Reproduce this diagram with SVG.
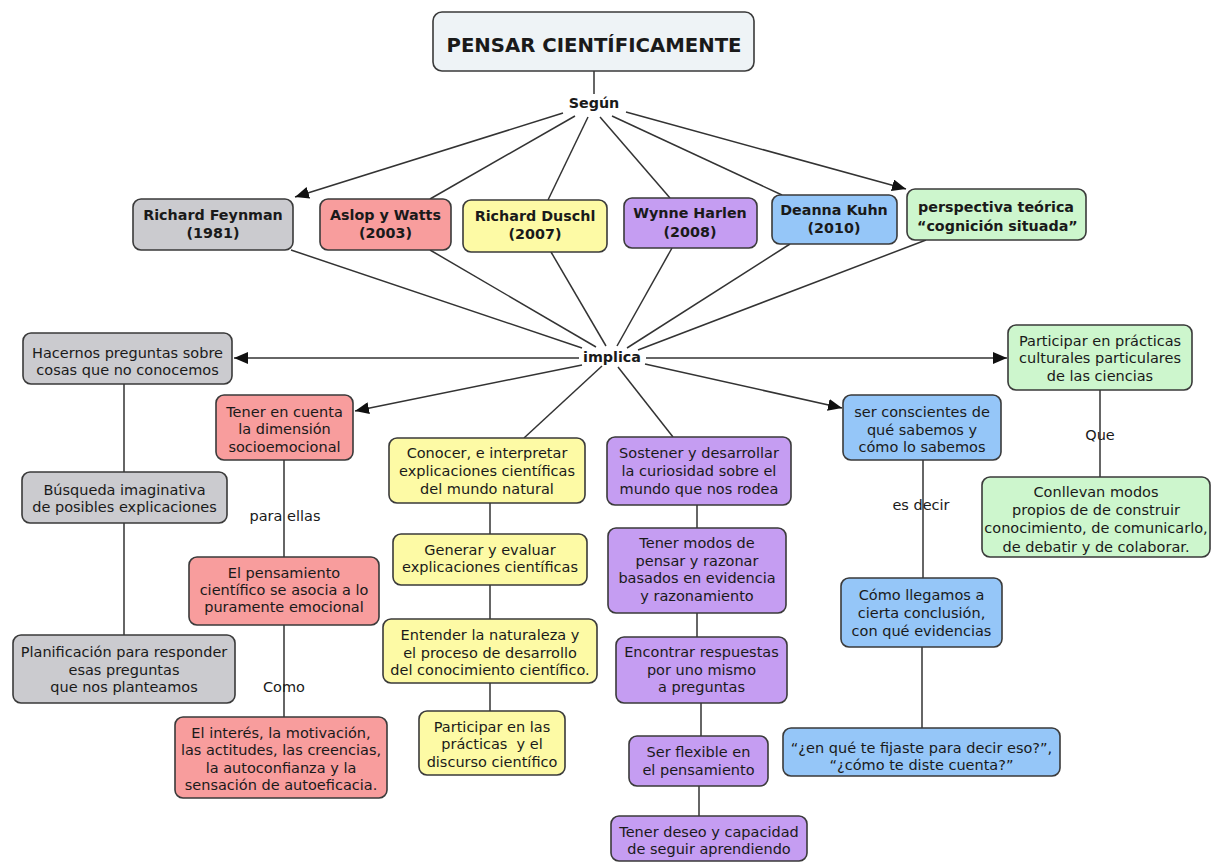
<svg xmlns="http://www.w3.org/2000/svg" width="1211" height="863" viewBox="0 0 1211 863">
<defs>
<marker id="arr" markerUnits="userSpaceOnUse" markerWidth="16" markerHeight="12" refX="14" refY="6" orient="auto">
<path d="M0,0 L14,6 L0,12 Z" fill="#111"/>
</marker>
<style>
.bx{stroke:#3a3a3a;stroke-width:1.6}
.t{font-family:"DejaVu Sans","Liberation Sans",sans-serif;font-size:14.5px;fill:#1a1a1a;text-anchor:middle}
.b{font-weight:bold;font-size:14.3px}
.c{stroke:#333;stroke-width:1.5;fill:none}
.gray{fill:#cbcbcf}.red{fill:#f89d9d}.yel{fill:#fdfaa5}.pur{fill:#c59df2}.blu{fill:#95c6f8}.grn{fill:#cdf6cd}
</style>
</defs>
<rect width="1211" height="863" fill="#fff"/>
<g id="connectors">
<line class="c" x1="594" y1="71" x2="594" y2="94"/>
<line class="c" x1="563" y1="113" x2="295" y2="197" marker-end="url(#arr)"/>
<line class="c" x1="575" y1="116" x2="430" y2="199"/>
<line class="c" x1="588" y1="117" x2="548" y2="200"/>
<line class="c" x1="600" y1="117" x2="670" y2="198"/>
<line class="c" x1="612" y1="116" x2="782" y2="195"/>
<line class="c" x1="626" y1="112" x2="906" y2="189" marker-end="url(#arr)"/>
<line class="c" x1="291" y1="250" x2="582" y2="348"/>
<line class="c" x1="430" y1="250" x2="596" y2="347"/>
<line class="c" x1="551" y1="252" x2="606" y2="346"/>
<line class="c" x1="672" y1="248" x2="617" y2="346"/>
<line class="c" x1="790" y1="244" x2="627" y2="348"/>
<line class="c" x1="926" y1="240" x2="638" y2="350"/>
<line class="c" x1="579" y1="358" x2="234" y2="358" marker-end="url(#arr)"/>
<line class="c" x1="582" y1="365" x2="355" y2="411" marker-end="url(#arr)"/>
<line class="c" x1="602" y1="366" x2="524" y2="438"/>
<line class="c" x1="618" y1="367" x2="673" y2="437"/>
<line class="c" x1="645" y1="364" x2="842" y2="408" marker-end="url(#arr)"/>
<line class="c" x1="646" y1="358" x2="1007" y2="358" marker-end="url(#arr)"/>
<line class="c" x1="124" y1="384" x2="124" y2="472"/>
<line class="c" x1="124" y1="523" x2="124" y2="635"/>
<line class="c" x1="284" y1="460" x2="284" y2="557"/>
<line class="c" x1="284" y1="625" x2="284" y2="717"/>
<line class="c" x1="490" y1="503" x2="490" y2="534"/>
<line class="c" x1="490" y1="585" x2="490" y2="619"/>
<line class="c" x1="490" y1="683" x2="490" y2="711"/>
<line class="c" x1="697" y1="505" x2="697" y2="528"/>
<line class="c" x1="697" y1="613" x2="697" y2="637"/>
<line class="c" x1="701" y1="703" x2="701" y2="736"/>
<line class="c" x1="699" y1="786" x2="699" y2="816"/>
<line class="c" x1="923" y1="460" x2="923" y2="578"/>
<line class="c" x1="922" y1="647" x2="922" y2="728"/>
<line class="c" x1="1100" y1="390" x2="1100" y2="477"/>
<text class="t b" x="594" y="108">Según</text>
<text class="t b" x="612" y="362">implica</text>
<text class="t" x="285" y="521">para ellas</text>
<text class="t" x="284" y="692">Como</text>
<text class="t" x="921" y="510">es decir</text>
<text class="t" x="1100" y="440">Que</text>
</g>
<g id="title">
<rect x="433" y="12" width="321" height="59" rx="9" fill="#eef3f6" class="bx"/>
<text class="t b" x="594" y="52" style="font-size:19.7px">PENSAR CIENTÍFICAMENTE</text>
</g>
<g id="feynman">
<rect x="133" y="199" width="160" height="51" rx="8" class="bx gray"/>
<text class="t b" x="213" y="220">Richard Feynman</text><text class="t b" x="213" y="238">(1981)</text>
</g>
<g id="aslop">
<rect x="320" y="199" width="131" height="51" rx="8" class="bx red"/>
<text class="t b" x="385.5" y="220">Aslop y Watts</text><text class="t b" x="385.5" y="238">(2003)</text>
</g>
<g id="duschl">
<rect x="463" y="200" width="144" height="52" rx="8" class="bx yel"/>
<text class="t b" x="535" y="221">Richard Duschl</text><text class="t b" x="535" y="239">(2007)</text>
</g>
<g id="harlen">
<rect x="624" y="198" width="133" height="50" rx="8" class="bx pur"/>
<text class="t b" x="690" y="218">Wynne Harlen</text><text class="t b" x="690" y="237">(2008)</text>
</g>
<g id="kuhn">
<rect x="772" y="195" width="125" height="49" rx="8" class="bx blu"/>
<text class="t b" x="834" y="215">Deanna Kuhn</text><text class="t b" x="834" y="233">(2010)</text>
</g>
<g id="perspectiva">
<rect x="907" y="189" width="179" height="51" rx="8" class="bx grn"/>
<text class="t b" x="918" y="212" style="text-anchor:start">perspectiva teórica</text><text class="t b" x="917" y="231" style="text-anchor:start">“cognición situada”</text>
</g>
<g id="hacernos">
<rect x="23" y="333" width="209" height="51" rx="8" class="bx gray"/>
<text class="t" x="127.5" y="358">Hacernos preguntas sobre</text><text class="t" x="127.5" y="375">cosas que no conocemos</text>
</g>
<g id="busqueda">
<rect x="22" y="472" width="205" height="51" rx="8" class="bx gray"/>
<text class="t" x="124.5" y="495">Búsqueda imaginativa</text><text class="t" x="124.5" y="512">de posibles explicaciones</text>
</g>
<g id="planificacion">
<rect x="13" y="635" width="222" height="68" rx="8" class="bx gray"/>
<text class="t" x="124" y="657">Planificación para responder</text><text class="t" x="124" y="675">esas preguntas</text><text class="t" x="124" y="692">que nos planteamos</text>
</g>
<g id="socioemocional">
<rect x="216" y="395" width="137" height="65" rx="8" class="bx red"/>
<text class="t" x="284.5" y="417">Tener en cuenta</text><text class="t" x="284.5" y="434">la dimensión</text><text class="t" x="284.5" y="452">socioemocional</text>
</g>
<g id="pensamiento">
<rect x="189" y="557" width="190" height="68" rx="8" class="bx red"/>
<text class="t" x="284" y="578">El pensamiento</text><text class="t" x="284" y="595">científico se asocia a lo</text><text class="t" x="284" y="612">puramente emocional</text>
</g>
<g id="interes">
<rect x="175" y="717" width="212" height="81" rx="8" class="bx red"/>
<text class="t" x="281" y="738">El interés, la motivación,</text><text class="t" x="281" y="755">las actitudes, las creencias,</text><text class="t" x="281" y="773">la autoconfianza y la</text><text class="t" x="281" y="790">sensación de autoeficacia.</text>
</g>
<g id="conocer">
<rect x="389" y="438" width="196" height="65" rx="8" class="bx yel"/>
<text class="t" x="487" y="458">Conocer, e interpretar</text><text class="t" x="487" y="476">explicaciones científicas</text><text class="t" x="487" y="494">del mundo natural</text>
</g>
<g id="generar">
<rect x="393" y="534" width="194" height="51" rx="8" class="bx yel"/>
<text class="t" x="490" y="555">Generar y evaluar</text><text class="t" x="490" y="572">explicaciones científicas</text>
</g>
<g id="entender">
<rect x="383" y="619" width="214" height="64" rx="8" class="bx yel"/>
<text class="t" x="490" y="640">Entender la naturaleza y</text><text class="t" x="490" y="658">el proceso de desarrollo</text><text class="t" x="490" y="675">del conocimiento científico.</text>
</g>
<g id="participar-discurso">
<rect x="419" y="711" width="146" height="64" rx="8" class="bx yel"/>
<text class="t" x="492" y="732">Participar en las</text><text class="t" x="492" y="749" xml:space="preserve">prácticas  y el</text><text class="t" x="492" y="767">discurso científico</text>
</g>
<g id="sostener">
<rect x="607" y="437" width="184" height="68" rx="8" class="bx pur"/>
<text class="t" x="699" y="458">Sostener y desarrollar</text><text class="t" x="699" y="476">la curiosidad sobre el</text><text class="t" x="699" y="494">mundo que nos rodea</text>
</g>
<g id="modos">
<rect x="608" y="528" width="178" height="85" rx="8" class="bx pur"/>
<text class="t" x="697" y="548">Tener modos de</text><text class="t" x="697" y="566">pensar y razonar</text><text class="t" x="697" y="583">basados en evidencia</text><text class="t" x="697" y="601">y razonamiento</text>
</g>
<g id="encontrar">
<rect x="616" y="637" width="171" height="66" rx="8" class="bx pur"/>
<text class="t" x="701.5" y="657">Encontrar respuestas</text><text class="t" x="701.5" y="675">por uno mismo</text><text class="t" x="701.5" y="692">a preguntas</text>
</g>
<g id="flexible">
<rect x="629" y="736" width="139" height="50" rx="8" class="bx pur"/>
<text class="t" x="698.5" y="757">Ser flexible en</text><text class="t" x="698.5" y="775">el pensamiento</text>
</g>
<g id="deseo">
<rect x="611" y="816" width="196" height="45" rx="8" class="bx pur"/>
<text class="t" x="709" y="837">Tener deseo y capacidad</text><text class="t" x="709" y="854">de seguir aprendiendo</text>
</g>
<g id="conscientes">
<rect x="843" y="395" width="158" height="65" rx="8" class="bx blu"/>
<text class="t" x="922" y="417">ser conscientes de</text><text class="t" x="922" y="435">qué sabemos y</text><text class="t" x="922" y="452">cómo lo sabemos</text>
</g>
<g id="conclusion">
<rect x="841" y="578" width="161" height="69" rx="8" class="bx blu"/>
<text class="t" x="921.5" y="600">Cómo llegamos a</text><text class="t" x="921.5" y="618">cierta conclusión,</text><text class="t" x="921.5" y="636">con qué evidencias</text>
</g>
<g id="preguntas-ejemplo">
<rect x="783" y="728" width="277" height="48" rx="8" class="bx blu"/>
<text class="t" x="921.5" y="753">“¿en qué te fijaste para decir eso?”,</text><text class="t" x="921.5" y="770">“¿cómo te diste cuenta?”</text>
</g>
<g id="practicas-culturales">
<rect x="1008" y="325" width="184" height="65" rx="8" class="bx grn"/>
<text class="t" x="1100" y="346">Participar en prácticas</text><text class="t" x="1100" y="363">culturales particulares</text><text class="t" x="1100" y="381">de las ciencias</text>
</g>
<g id="conllevan">
<rect x="982" y="477" width="228" height="80" rx="8" class="bx grn"/>
<text class="t" x="1096" y="497">Conllevan modos</text><text class="t" x="1096" y="515">propios de de construir</text><text class="t" x="1096" y="533">conocimiento, de comunicarlo,</text><text class="t" x="1096" y="552">de debatir y de colaborar.</text>
</g>
</svg>
